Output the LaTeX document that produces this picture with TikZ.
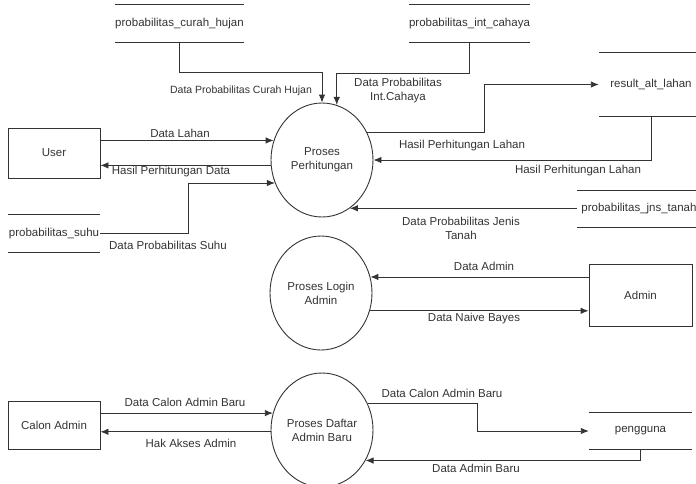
\documentclass[tikz,border=0pt]{standalone}
\usepackage{fontspec}
\setmainfont{Liberation Sans}
\usepackage{xcolor}
\usepackage{tikz}
\usetikzlibrary{calc}
\usetikzlibrary{shapes,arrows.meta,positioning}
\usetikzlibrary{shapes.geometric}

\definecolor{inkgray}{HTML}{333333}

\tikzset{
  entity/.style={draw=inkgray,line width=0.9pt,rectangle,inner sep=0pt},
  proses/.style={draw=inkgray,line width=0.9pt,ellipse,minimum width=102pt,minimum height=114pt,inner sep=0pt,align=center},
  store/.style={inner sep=0pt},
  flow/.style={draw=inkgray,line width=0.9pt,-{Latex[length=8pt,width=6.5pt]}},
  storeline/.style={draw=inkgray,line width=0.9pt},
  lbl/.style={align=center,inner sep=0pt}
}

\begin{document}
\begin{tikzpicture}[x=1pt,y=-1pt,font=\fontsize{11.5}{14}\selectfont,text=inkgray]
		\useasboundingbox (0,0) rectangle (696,483);
		\clip (0,0) rectangle (696,483);
		% proses
		\node[proses] (hitung) at (322,160) {Proses\\Perhitungan};
		\node[proses] (login) at (321,293) {Proses Login\\Admin};
		\node[proses] (daftar) at (322,430) {Proses Daftar\\Admin Baru};
		% entitas
		\node[entity,minimum width=92pt,minimum height=50pt] (user) at (54,153) {User};
		\node[entity,minimum width=103pt,minimum height=62pt] (admin) at (640.5,295) {Admin};
		\node[entity,minimum width=92pt,minimum height=48pt] (calon) at (54,425) {Calon Admin};
		% data store
		\node[store,minimum width=125pt,minimum height=37.5pt] (curah) at (179.5,23.3) {probabilitas\_curah\_hujan};
		\node[store,minimum width=121pt,minimum height=37.5pt] (cahaya) at (469.5,23.3) {probabilitas\_int\_cahaya};
		\node[store,minimum width=104pt,minimum height=63pt] (result) at (651,84.5) {result\_alt\_lahan};
		\node[store,minimum width=124pt,minimum height=36pt] (jns) at (639,209) {probabilitas\_jns\_tanah};
		\node[store,minimum width=92pt,minimum height=37pt] (suhu) at (54,233.5) {probabilitas\_suhu};
		\node[store,minimum width=103pt,minimum height=36pt] (pengguna) at (640.5,431) {pengguna};
		\foreach \s in {curah,cahaya,result,jns,suhu,pengguna}{
			\draw[storeline] (\s.north west) -- (\s.north east) (\s.south west) -- (\s.south east);
		}
		% aliran data perhitungan
		\draw[flow] (curah.south) -- ++(0,30) -| (hitung.north);
		\draw[flow] (cahaya.south) -- ++(0,31) -| (hitung.75);
		\draw[flow] (user.east |- hitung.158) -- (hitung.158);
		\draw[flow] (hitung.186) -- (user.east |- hitung.186);
		\draw[flow] (suhu.east) -- ++(88,0) |- (hitung.206);
		\draw[flow] (hitung.31) -- ++(117,0) |- (result.west);
		\draw[flow] (result.south) |- (hitung.east);
		\draw[flow] (hitung.300 -| jns.west) -- (hitung.300);
		% aliran data login
		\draw[flow] (admin.west |- login.18) -- (login.18);
		\draw[flow] (login.340) -- (login.340 -| admin.west);
		% aliran data daftar
		\draw[flow] (calon.east |- daftar.161) -- (daftar.161);
		\draw[flow] (daftar.182) -- (calon.east |- daftar.182);
		\draw[flow] (daftar.30) -- ++(110,0) |- (pengguna.west);
		\draw[flow] (pengguna.south) |- (daftar.325);
		% label
		\node[lbl,font=\fontsize{10.5}{13}\selectfont] (lcurah) at (241,91) {Data Probabilitas Curah Hujan};
		\node[lbl] (lcahaya) at (398,90.5) {Data Probabilitas\\Int.Cahaya};
		\node[lbl] (llahan) at (180,133) {Data Lahan};
		\node[lbl] (lhasildata) at (171,172) {Hasil Perhitungan Data};
		\node[lbl] (lsuhu) at (168,245) {Data Probabilitas Suhu};
		\node[lbl] (lhasilke) at (462,146) {Hasil Perhitungan Lahan};
		\node[lbl] (lhasildari) at (578,171) {Hasil Perhitungan Lahan};
		\node[lbl] (ljns) at (461,228.5) {Data Probabilitas Jenis\\Tanah};
		\node[lbl] (ladmin) at (484,266) {Data Admin};
		\node[lbl] (lnaive) at (474,319) {Data Naive Bayes};
		\node[lbl] (lcalon) at (185,402) {Data Calon Admin Baru};
		\node[lbl] (lhak) at (191,443) {Hak Akses Admin};
		\node[lbl] (lcalonbaru) at (442,393) {Data Calon Admin Baru};
		\node[lbl] (ladminbaru) at (476,468) {Data Admin Baru};
	\end{tikzpicture}
\end{document}
